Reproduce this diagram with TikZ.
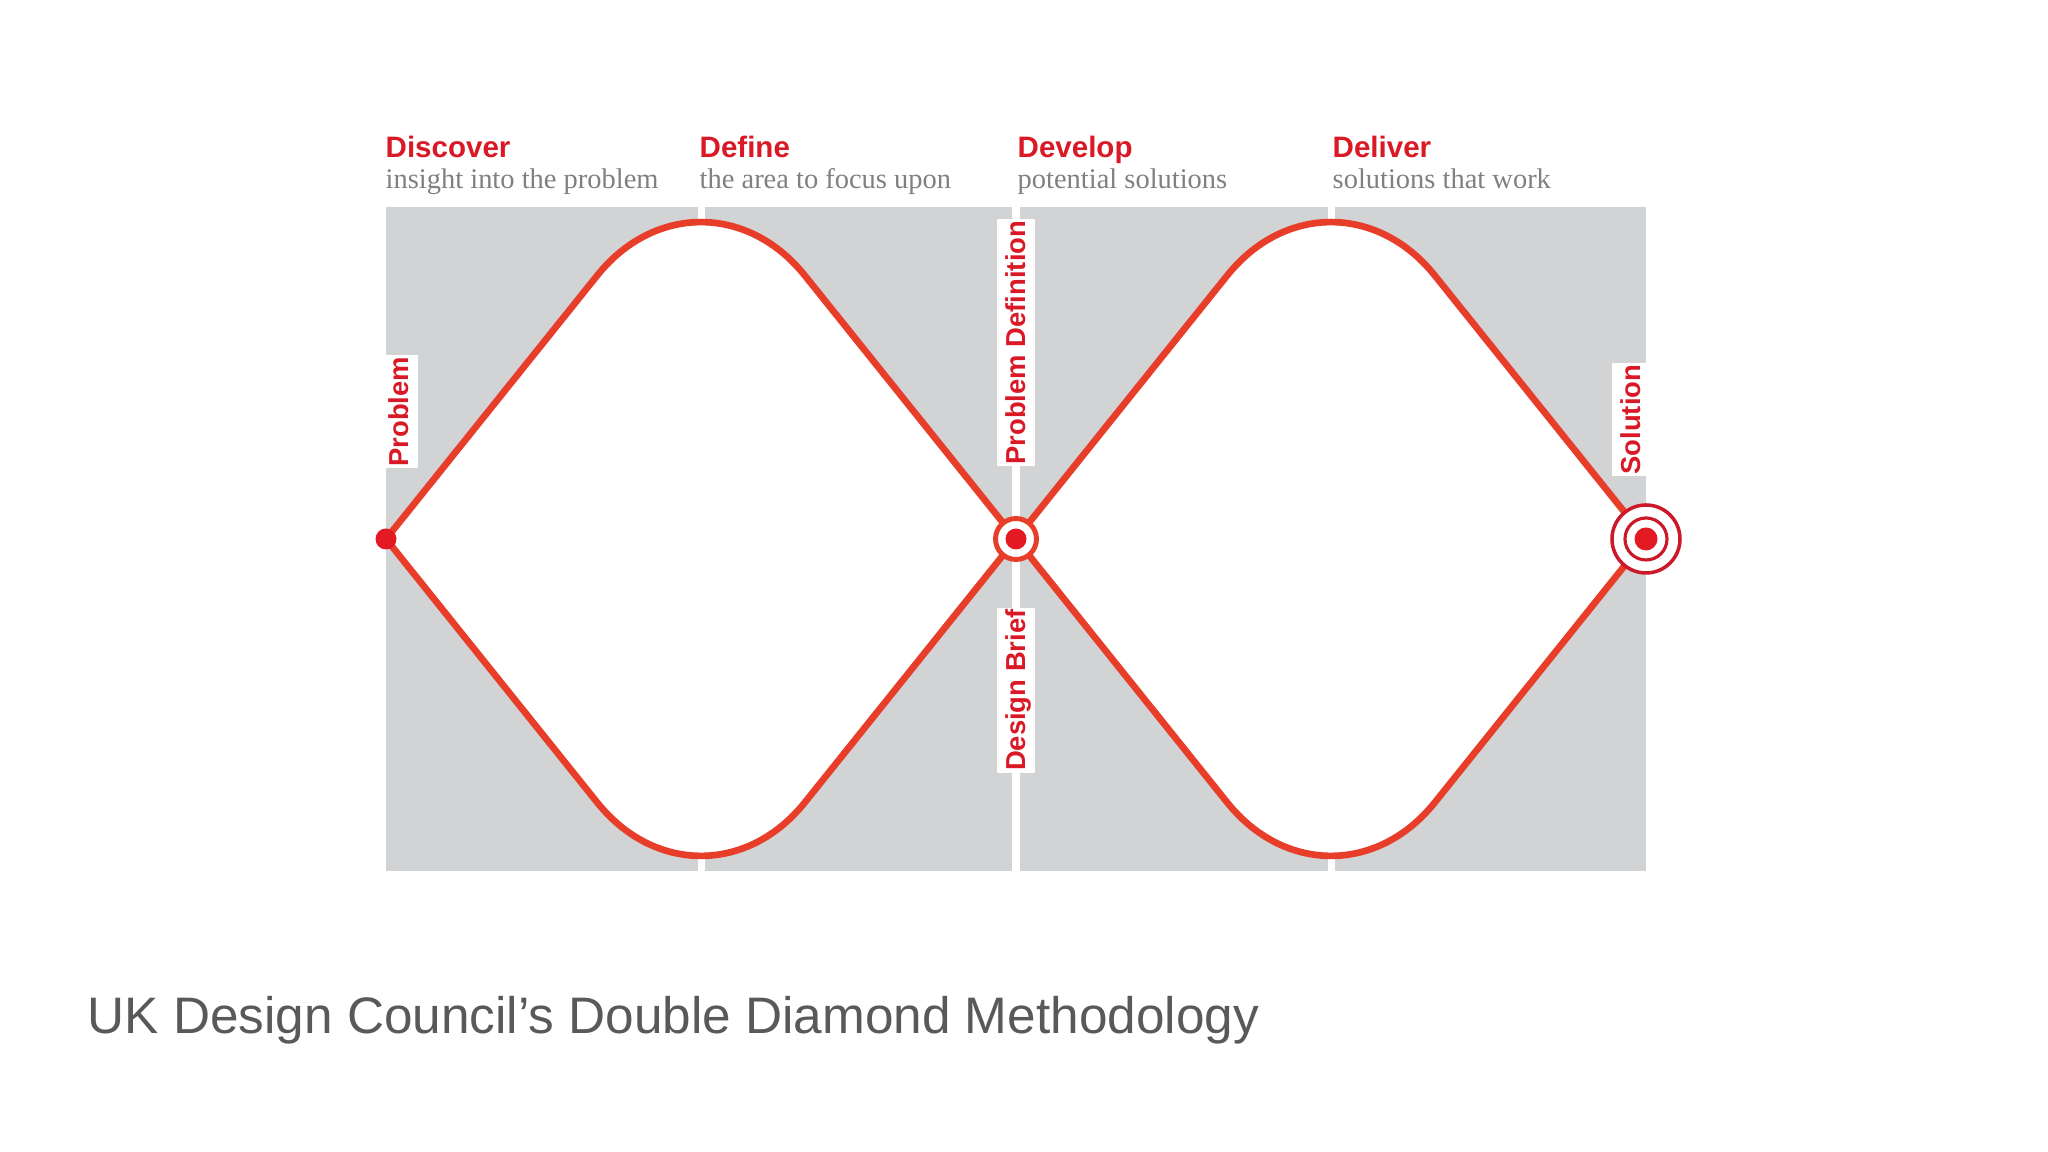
\documentclass[tikz,border=0pt]{standalone}
\usepackage{fontspec}
\setmainfont{Liberation Serif}
\setsansfont{Liberation Sans}
\usepackage{tikz}
\definecolor{headred}{rgb}{0.85, 0.1, 0.15}
\definecolor{lineorange}{rgb}{0.91, 0.24, 0.16}
\definecolor{dotred}{rgb}{0.89, 0.1, 0.14}
\definecolor{ringred}{rgb}{0.8, 0.1, 0.16}
\definecolor{panelgray}{rgb}{0.82, 0.827, 0.835}
\definecolor{subgray}{rgb}{0.5, 0.5, 0.5}
\definecolor{captiongray}{rgb}{0.35, 0.35, 0.35}

\begin{document}
\begin{tikzpicture}[
		outline/.style={draw=lineorange, line width=1.9pt, fill=white, line join=miter},
		dot/.style={circle, fill=dotred, inner sep=0pt, minimum size=0.21cm},
		midring/.style={circle, draw=lineorange, line width=1.4pt, fill=white, inner sep=0pt, minimum size=0.41cm},
		outerring/.style={circle, draw=ringred, line width=1pt, fill=white, inner sep=0pt, minimum size=0.68cm},
		innerring/.style={circle, draw=ringred, line width=0.9pt, inner sep=0pt, minimum size=0.42cm},
		stagetag/.style={fill=white, text=headred, inner sep=0.5pt, text height=0.75em, text depth=0.22em, rotate=90, font=\sffamily\bfseries\fontsize{7.8}{8}\selectfont},
		stagehead/.style={anchor=base west, inner sep=0pt, text=headred, font=\sffamily\bfseries\fontsize{8.4}{10}\selectfont},
		stagesub/.style={anchor=base west, inner sep=0pt, text=subgray, font=\rmfamily\fontsize{8.1}{10}\selectfont}]
		\useasboundingbox (0,0) rectangle (20.48,11.52);
		% grey panel, four columns
		\foreach \a/\b in {3.86/6.975, 7.045/10.12, 10.20/13.275, 13.345/16.46}{
			\fill [panelgray] (\a,2.81) rectangle (\b,9.45);
		}
		\coordinate (p0) at (3.86,6.13);
		\coordinate (p1) at (10.16,6.13);
		\coordinate (p2) at (16.46,6.13);
		% the two diamonds
		\foreach \x/\pa/\pb in {7.01/p0/p1, 13.31/p1/p2}{
			\filldraw [outline] (\pa) -- ({\x-1.038},8.765) .. controls ({\x-0.467},9.477) and ({\x+0.467},9.477) .. ({\x+1.038},8.765) -- (\pb) -- ({\x+1.038},3.495) .. controls ({\x+0.467},2.783) and ({\x-0.467},2.783) .. ({\x-1.038},3.495) -- cycle;
		}
		\node [dot] (start) at (p0) {};
		\node [midring] (middle) at (p1) {};
		\node [dot] (middledot) at (middle) {};
		\node [outerring] (finish) at (p2) {};
		\node [innerring] (finishring) at (finish) {};
		\node [dot, minimum size=0.23cm] (finishdot) at (finish) {};
		% labels on the lines
		\node [stagetag, anchor=west] (problem) at (3.995,6.83) {Problem};
		\node [stagetag, anchor=west] (problemdef) at (10.16,6.85) {Problem Definition};
		\node [stagetag, anchor=east] (brief) at (10.16,5.45) {Design Brief};
		\node [stagetag, anchor=west] (solution) at (16.31,6.75) {Solution};
		% column headings
		\foreach \x/\head/\sub [count=\i] in {3.85/Discover/insight into the problem, 6.99/Define/the area to focus upon, 10.17/Develop/potential solutions, 13.32/Deliver/solutions that work}{
			\node [stagehead] (head\i) at (\x,9.94) {\head};
			\node [stagesub] (sub\i) at (\x,9.63) {\sub};
		}
		\node [anchor=base west, inner sep=0pt, text=captiongray, font=\sffamily\fontsize{14.6}{18}\selectfont] (caption) at (0.87,1.18) {UK Design Council’s Double Diamond Methodology};
	\end{tikzpicture}
\end{document}
